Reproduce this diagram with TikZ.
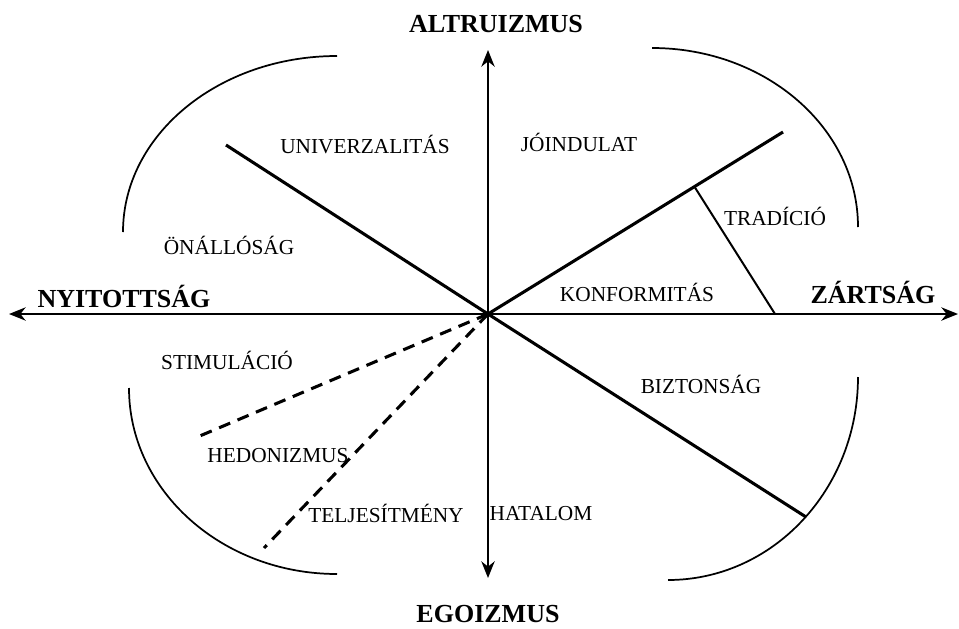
\documentclass[tikz,border=0pt]{standalone}
\usepackage{fontspec}
\setmainfont{Liberation Serif}
\usetikzlibrary{arrows.meta}
\begin{document}
\begin{tikzpicture}[x=0.75pt,y=-0.75pt,
  axis/.style={line width=1.5pt,-{Stealth[length=12.5pt,width=10pt,inset=4pt]}},
  thickline/.style={line width=2.3pt},
  thinline/.style={line width=1.5pt},
  dashline/.style={line width=2.3pt,dash pattern=on 9pt off 6pt},
  arcline/.style={line width=1.3pt},
  lbl/.style={font=\fontsize{16pt}{18pt}\selectfont,inner sep=0pt},
  head/.style={font=\fontsize{19.5pt}{22pt}\selectfont\bfseries,inner sep=0pt}]
\useasboundingbox (0,0) rectangle (959,628);
\coordinate (O) at (488,314);
\coordinate (L) at (9,314);
\coordinate (R) at (958,314);
\coordinate (T) at (488,50);
\coordinate (B) at (488,578);
\draw[axis] (O) -- (L);
\draw[axis] (O) -- (R);
\draw[axis] (O) -- (T);
\draw[axis] (O) -- (B);
% arcs
\draw[arcline] (123,232) arc[start angle=180,end angle=90,x radius=214,y radius=-176];
\draw[arcline] (652,48) arc[start angle=90,end angle=0,x radius=206,y radius=-179];
\draw[arcline] (129,388) arc[start angle=180,end angle=270,x radius=208,y radius=-186];
\draw[arcline] (858,377) arc[start angle=0,end angle=-90,x radius=190,y radius=-203];
% sector lines
\coordinate (UL) at (226,145);
\coordinate (UR) at (783,132);
\coordinate (LR) at (806,517);
\coordinate (D1) at (195,438);
\coordinate (D2) at (264,548);
\coordinate (TA) at (694,186);
\coordinate (TB) at (775,314);
\draw[thickline] (O) -- (UL);
\draw[thickline] (O) -- (UR);
\draw[thickline] (O) -- (LR);
\draw[thinline] (TA) -- (TB);
\draw[dashline] (O) -- (D1);
\draw[dashline] (O) -- (D2);
% headings
\node[head] (alt) at (496,24) {ALTRUIZMUS};
\node[head] (ego) at (488,614) {EGOIZMUS};
\node[head] (nyi) at (124,296) {NYITOTTSÁG};
\node[head] (zar) at (873,292) {ZÁRTSÁG};
% labels
\node[lbl] (uni) at (365,145) {UNIVERZALITÁS};
\node[lbl] (joi) at (579,142) {JÓINDULAT};
\node[lbl] (tra) at (775,216) {TRADÍCIÓ};
\node[lbl] (kon) at (637,292) {KONFORMITÁS};
\node[lbl] (ona) at (229,245) {ÖNÁLLÓSÁG};
\node[lbl] (sti) at (227,360) {STIMULÁCIÓ};
\node[lbl] (biz) at (701,384) {BIZTONSÁG};
\node[lbl] (hed) at (278,456) {HEDONIZMUS};
\node[lbl] (tel) at (386,513) {TELJESÍTMÉNY};
\node[lbl] (hat) at (541,514) {HATALOM};
\end{tikzpicture}
\end{document}
